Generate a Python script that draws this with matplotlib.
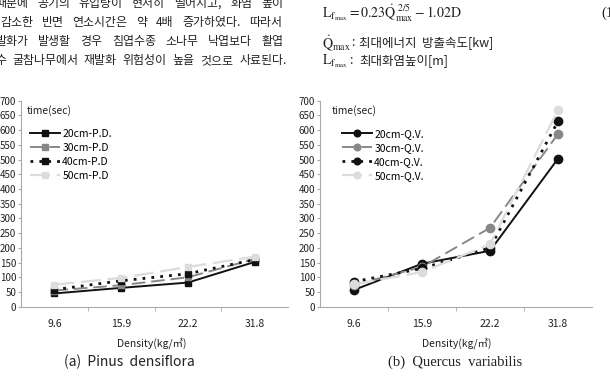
import matplotlib
matplotlib.use("Agg")
import matplotlib.pyplot as plt

plt.rcParams['font.family'] = ['Noto Sans CJK KR', 'DejaVu Sans']
plt.rcParams['mathtext.fontset'] = 'stix'

# Data
densities = ['9.6', '15.9', '22.2', '31.8']
series_pd = ['20cm-P.D.', '30cm-P.D', '40cm-P.D', '50cm-P.D']
series_qv = ['20cm-Q.V.', '30cm-Q.V.', '40cm-Q.V.', '50cm-Q.V.']
pd_20 = [45, 64, 82, 152]
pd_30 = [55, 73, 100, 162]
pd_40 = [58, 88, 112, 160]
pd_50 = [75, 98, 135, 170]
qv_20 = [57, 146, 190, 503]
qv_30 = [74, 135, 268, 587]
qv_40 = [85, 130, 200, 630]
qv_50 = [76, 118, 212, 668]

text_left = ['때문에 공기의 유입량이 현저히 떨어지고, 화염 높이',
             '감소한 반면 연소시간은 약 4배 증가하였다. 따라서',
             '발화가 발생할 경우 침엽수종 소나무 낙엽보다 활엽',
             '수 굴참나무에서 재발화 위험성이 높을 것으로 사료된다.']
# left / right pixel edges of each paragraph line
text_left_edges = [(-5, 283), (0, 282), (-4, 283), (-5, 287)]

W, H = 610, 384
fig = plt.figure(figsize=(W / 100, H / 100), dpi=100)
renderer = fig.canvas.get_renderer()


def px(x, y):
    return x / W, 1 - y / H


styles = [
    dict(color='#111111', linestyle='-', lw=1.4),
    dict(color='#888888', linestyle=(0, (7, 3)), lw=1.4),
    dict(color='#111111', linestyle=(0, (1, 2.2)), lw=2.0),
    dict(color='#dcdcdc', linestyle=(0, (9, 3)), lw=1.6),
]


def draw_chart(rect, series, names, marker, msize, legend_xy):
    ax = fig.add_axes(rect)
    xs = range(1, len(densities) + 1)
    for vals, name, st in zip(series, names, styles):
        ax.plot(xs, vals, marker=marker, markersize=msize,
                markerfacecolor=st['color'], markeredgecolor=st['color'],
                label=name, **st)
    ax.set_xlim(0.5, 4.5)
    ax.set_ylim(0, 700)
    ax.set_yticks(range(0, 701, 50))
    ax.set_xticks(list(xs))
    ax.set_xticklabels(densities)
    ax.set_xticks([1.5, 2.5, 3.5], minor=True)
    ax.tick_params(axis='x', which='major', length=0, pad=9, labelsize=7.5, colors='#222222')
    ax.tick_params(axis='x', which='minor', length=3, color='#aaaaaa')
    ax.tick_params(axis='y', length=2, pad=1.5, labelsize=7, colors='#222222')
    ax.tick_params(axis='y', color='#aaaaaa')
    for s in ['top', 'right']:
        ax.spines[s].set_visible(False)
    for s in ['left', 'bottom']:
        ax.spines[s].set_color('#aaaaaa')
        ax.spines[s].set_linewidth(0.8)
    ax.legend(loc='upper left', bbox_to_anchor=px(*legend_xy),
              bbox_transform=fig.transFigure, frameon=False,
              fontsize=7.5, handlelength=2.9, handletextpad=0.2,
              labelspacing=0.38, borderpad=0, borderaxespad=0, markerscale=0.8)
    return ax


y_top, y_bot = 100.7, 306.7
draw_chart([21 / W, 1 - y_bot / H, (288 - 21) / W, (y_bot - y_top) / H],
           [pd_20, pd_30, pd_40, pd_50], series_pd, 's', 5, (30, 129))
draw_chart([320 / W, 1 - y_bot / H, (592 - 320) / W, (y_bot - y_top) / H],
           [qv_20, qv_30, qv_40, qv_50], series_qv, 'o', 6, (342, 129))

fig.text(*px(27, 111), 'time(sec)', fontsize=7.5, va='center', color='#222222')
fig.text(*px(332, 111), 'time(sec)', fontsize=7.5, va='center', color='#222222')

fig.text(*px(152, 343), 'Density(kg/㎥)', fontsize=7.5, ha='center', va='center', color='#222222')
fig.text(*px(457, 343), 'Density(kg/㎥)', fontsize=7.5, ha='center', va='center', color='#222222')

fig.text(*px(129, 362), '(a)  Pinus  densiflora', fontsize=10, ha='center', va='center', color='#222222')
fig.text(*px(455, 362), '(b)  Quercus  variabilis', fontsize=10.5, ha='center', va='center',
         family='Liberation Serif', color='#222222')

# Paragraph text on top left, justified word by word
for i, (line, (xl, xr)) in enumerate(zip(text_left, text_left_edges)):
    y = 3 + i * 19.3
    words = line.split(' ')
    objs = [fig.text(0, 0, w, fontsize=8.6, va='center', color='#222222') for w in words]
    widths = [o.get_window_extent(renderer).width for o in objs]
    gap = (xr - xl - sum(widths)) / (len(words) - 1)
    x = xl
    for o, w in zip(objs, widths):
        o.set_position(px(x, y))
        x += w + gap

# Equation and definitions on top right
fig.text(*px(322, 13), r'$\mathrm{L_{f_{max}}=0.23\dot{Q}_{max}^{\ 2/5}-1.02D}$',
         fontsize=10, va='center', color='#222222')
fig.text(*px(601, 13), '(1', fontsize=10.5, va='center', family='Liberation Serif', color='#222222')
fig.text(*px(322, 43), r'$\mathrm{\dot{Q}_{max}}$', fontsize=10, va='center', color='#222222')
fig.text(*px(351, 43), ':', fontsize=9, va='center', color='#222222')
fig.text(*px(359, 43), '최대에너지  방출속도[kw]', fontsize=9, va='center', color='#222222')
fig.text(*px(322, 61), r'$\mathrm{L_{f_{max}}}$', fontsize=10, va='center', color='#222222')
fig.text(*px(349, 61), ':', fontsize=9, va='center', color='#222222')
fig.text(*px(359, 61), '최대화염높이[m]', fontsize=9, va='center', color='#222222')

fig.savefig('out.png', dpi=100)
